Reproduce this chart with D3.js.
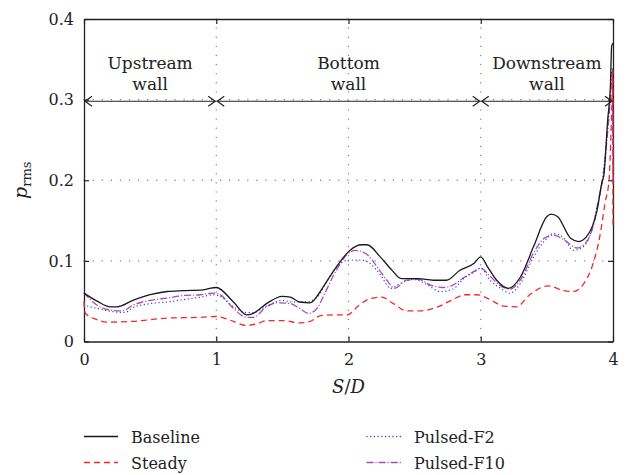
<!DOCTYPE html>
<html>
<head>
<meta charset="utf-8">
<script src="https://d3js.org/d3.v7.min.js"></script>
<style>
  body { margin: 0; background: #fff; }
  svg { display: block; font-family: "DejaVu Serif", "Liberation Serif", serif; }
</style>
</head>
<body>
<svg id="drawing_region"></svg>
<script>
// S/D positions and p_rms values
const baseline = [[0,0.060],[0.1,0.050],[0.2,0.043],[0.25,0.043],[0.37,0.051],[0.5,0.058],[0.63,0.062],[0.75,0.063],[0.9,0.064],[0.95,0.066],[1.0,0.067],[1.13,0.049],[1.23,0.033],[1.28,0.035],[1.38,0.047],[1.5,0.056],[1.56,0.055],[1.63,0.049],[1.71,0.048],[1.77,0.058],[1.81,0.068],[1.91,0.093],[2.01,0.113],[2.1,0.120],[2.14,0.120],[2.24,0.105],[2.32,0.090],[2.4,0.078],[2.53,0.078],[2.64,0.076],[2.74,0.076],[2.84,0.088],[2.95,0.097],[3.0,0.105],[3.05,0.093],[3.12,0.076],[3.21,0.066],[3.3,0.080],[3.4,0.118],[3.5,0.155],[3.53,0.158],[3.58,0.155],[3.68,0.128],[3.74,0.124],[3.8,0.130],[3.88,0.163],[3.92,0.200],[3.93,0.205],[3.96,0.275],[3.98,0.316],[3.99,0.366],[4.0,0.370]];
const steady = [[0,0.050],[0.01,0.035],[0.1,0.027],[0.17,0.024],[0.37,0.025],[0.63,0.029],[0.88,0.030],[1.0,0.031],[1.13,0.025],[1.22,0.020],[1.31,0.022],[1.38,0.026],[1.51,0.026],[1.63,0.023],[1.71,0.025],[1.79,0.032],[1.89,0.033],[1.99,0.033],[2.08,0.045],[2.16,0.053],[2.25,0.055],[2.34,0.047],[2.44,0.038],[2.54,0.038],[2.69,0.044],[2.79,0.052],[2.88,0.058],[2.97,0.058],[3.07,0.052],[3.17,0.044],[3.27,0.043],[3.37,0.058],[3.51,0.069],[3.63,0.063],[3.7,0.062],[3.78,0.072],[3.85,0.097],[3.9,0.130],[3.94,0.172],[3.97,0.200],[3.984,0.254],[3.992,0.296],[3.998,0.337],[4.0,0.140]];
const pulsedF2 = [[0,0.045],[0.1,0.041],[0.22,0.037],[0.31,0.036],[0.37,0.042],[0.5,0.047],[0.63,0.049],[0.75,0.052],[0.88,0.055],[0.98,0.058],[1.03,0.056],[1.13,0.043],[1.22,0.036],[1.28,0.036],[1.38,0.044],[1.5,0.051],[1.58,0.049],[1.68,0.049],[1.77,0.056],[1.84,0.076],[1.91,0.092],[2.0,0.101],[2.09,0.101],[2.16,0.097],[2.24,0.083],[2.32,0.066],[2.39,0.072],[2.49,0.077],[2.59,0.071],[2.69,0.062],[2.79,0.065],[2.87,0.078],[2.95,0.086],[3.0,0.091],[3.07,0.076],[3.15,0.066],[3.22,0.060],[3.3,0.072],[3.4,0.105],[3.5,0.128],[3.55,0.134],[3.63,0.128],[3.7,0.113],[3.78,0.118],[3.83,0.134],[3.88,0.167],[3.92,0.200],[3.96,0.270],[3.98,0.310],[3.995,0.340],[4.0,0.250]];
const pulsedF10 = [[0,0.060],[0.1,0.045],[0.2,0.039],[0.29,0.038],[0.37,0.045],[0.5,0.051],[0.63,0.054],[0.75,0.057],[0.88,0.058],[0.98,0.060],[1.03,0.058],[1.13,0.041],[1.23,0.030],[1.28,0.030],[1.38,0.043],[1.46,0.048],[1.56,0.047],[1.63,0.041],[1.7,0.035],[1.77,0.043],[1.81,0.056],[1.91,0.089],[1.99,0.108],[2.05,0.113],[2.14,0.108],[2.21,0.094],[2.29,0.076],[2.35,0.066],[2.44,0.076],[2.53,0.077],[2.62,0.070],[2.71,0.067],[2.79,0.070],[2.87,0.079],[2.95,0.087],[3.0,0.091],[3.07,0.081],[3.15,0.069],[3.22,0.065],[3.31,0.079],[3.4,0.110],[3.48,0.128],[3.55,0.132],[3.63,0.126],[3.73,0.116],[3.8,0.124],[3.85,0.143],[3.89,0.176],[3.92,0.200],[3.96,0.260],[3.98,0.300],[3.995,0.335],[4.0,0.200]];

const seriesNames = ['Baseline', 'Steady', 'Pulsed-F2', 'Pulsed-F10'];
const xTicks = [0, 1, 2, 3, 4];
const yTicks = [0, 0.1, 0.2, 0.3, 0.4];
const xTickLabels = ['0', '1', '2', '3', '4'];
const yTickLabels = ['0', '0.1', '0.2', '0.3', '0.4'];

// wall regions marked by the arrows at p_rms = 0.3
const regionStart = [0, 1, 3];
const regionEnd = [1, 3, 4];
const regionLabels = [['Upstream', 'wall'], ['Bottom', 'wall'], ['Downstream', 'wall']];
const arrowLevel = 0.298;

const styles = [
    { color: '#1a1a1a', dash: null, cap: 'butt' },
    { color: '#f2282d', dash: '6,4', cap: 'butt' },
    { color: '#3048d8', dash: '0.1,3.6', cap: 'round' },
    { color: '#b048b8', dash: '6,3,0.1,3', cap: 'round' }
];

class LinePlot {
    constructor(config) {
        this.config = config;
        this.init();
    }

    init() {
        let self = this;
        const c = self.config;

        self.svg = d3.select(c.parent)
            .attr('width', c.width)
            .attr('height', c.height);

        self.inner_width = c.width - c.margin.left - c.margin.right;
        self.inner_height = c.height - c.margin.top - c.margin.bottom;

        self.chart = self.svg.append('g')
            .attr('transform', `translate(${c.margin.left}, ${c.margin.top})`);

        self.xscale = d3.scaleLinear().domain([0, 4]).range([0, self.inner_width]);
        self.yscale = d3.scaleLinear().domain([0, 0.4]).range([self.inner_height, 0]);
    }

    render() {
        let self = this;
        const w = self.inner_width, h = self.inner_height;

        // dotted grid
        const grid = self.chart.append('g')
            .attr('stroke', '#7a7a7a')
            .attr('stroke-width', 1.3)
            .attr('stroke-dasharray', '0.1,9')
            .attr('stroke-linecap', 'round');
        grid.selectAll('.gx')
            .data(xTicks.slice(1, -1))
            .join('line')
            .attr('x1', d => self.xscale(d)).attr('x2', d => self.xscale(d))
            .attr('y1', 0).attr('y2', h);
        grid.selectAll('.gy')
            .data(yTicks.slice(1, -1))
            .join('line')
            .attr('y1', d => self.yscale(d)).attr('y2', d => self.yscale(d))
            .attr('x1', 0).attr('x2', w);

        // axes with inward ticks on all sides
        const xaxis = d3.axisBottom(self.xscale).tickValues(xTicks)
            .tickFormat((d, i) => xTickLabels[i]).tickSizeInner(-5).tickSizeOuter(0).tickPadding(12);
        const yaxis = d3.axisLeft(self.yscale).tickValues(yTicks)
            .tickFormat((d, i) => yTickLabels[i]).tickSizeInner(-5).tickSizeOuter(0).tickPadding(10);
        const xaxis_top = d3.axisTop(self.xscale).tickValues(xTicks).tickFormat('').tickSizeInner(-5).tickSizeOuter(0);
        const yaxis_right = d3.axisRight(self.yscale).tickValues(yTicks).tickFormat('').tickSizeInner(-5).tickSizeOuter(0);

        const axes = [
            self.chart.append('g').attr('transform', `translate(0, ${h})`).call(xaxis),
            self.chart.append('g').call(yaxis),
            self.chart.append('g').call(xaxis_top),
            self.chart.append('g').attr('transform', `translate(${w}, 0)`).call(yaxis_right)
        ];
        axes.forEach(g => {
            g.select('.domain').attr('stroke', '#222').attr('stroke-width', 1.3);
            g.selectAll('.tick line').attr('stroke', '#222').attr('stroke-width', 1.2);
            g.selectAll('.tick text')
                .attr('font-family', '"DejaVu Serif", serif')
                .attr('font-size', '16px')
                .attr('fill', '#222');
        });

        // curves
        const line = d3.line()
            .curve(d3.curveMonotoneX)
            .x(d => self.xscale(d[0]))
            .y(d => self.yscale(d[1]));
        const allSeries = [baseline, steady, pulsedF2, pulsedF10];
        [3, 2, 1, 0].forEach(i => {
            self.chart.append('path')
                .datum(allSeries[i])
                .attr('d', line)
                .attr('fill', 'none')
                .attr('stroke', styles[i].color)
                .attr('stroke-width', 1.3)
                .attr('stroke-linecap', styles[i].cap)
                .attr('stroke-linejoin', 'round')
                .attr('stroke-dasharray', styles[i].dash);
        });

        // region arrows
        const ay = self.yscale(arrowLevel);
        const arrows = self.chart.append('g')
            .attr('stroke', '#222')
            .attr('stroke-width', 1.2)
            .attr('fill', 'none');
        regionStart.forEach((s, i) => {
            const x1 = self.xscale(s) + 1, x2 = self.xscale(regionEnd[i]) - 1;
            arrows.append('line').attr('x1', x1).attr('x2', x2).attr('y1', ay).attr('y2', ay);
            arrows.append('path').attr('d', `M${x1 + 7},${ay - 5}L${x1},${ay}L${x1 + 7},${ay + 5}`);
            arrows.append('path').attr('d', `M${x2 - 7},${ay - 5}L${x2},${ay}L${x2 - 7},${ay + 5}`);
            const cx = self.xscale((s + regionEnd[i]) / 2);
            self.chart.append('text')
                .attr('x', cx).attr('y', ay - 32)
                .attr('text-anchor', 'middle')
                .attr('font-size', '17px')
                .attr('fill', '#222')
                .text(regionLabels[i][0]);
            self.chart.append('text')
                .attr('x', cx).attr('y', ay - 11)
                .attr('text-anchor', 'middle')
                .attr('font-size', '17px')
                .attr('fill', '#222')
                .text(regionLabels[i][1]);
        });

        // axis titles
        const xt = self.chart.append('text')
            .attr('x', w / 2).attr('y', h + 51)
            .attr('text-anchor', 'middle')
            .attr('font-size', '18px')
            .attr('fill', '#222');
        xt.append('tspan').attr('font-style', 'italic').text('S');
        xt.append('tspan').text('/');
        xt.append('tspan').attr('font-style', 'italic').text('D');

        const yt = self.chart.append('text')
            .attr('transform', `translate(${-57}, ${self.yscale(0.2)}) rotate(-90)`)
            .attr('text-anchor', 'middle')
            .attr('fill', '#222');
        yt.append('tspan').attr('font-style', 'italic').attr('font-size', '19px').text('p');
        yt.append('tspan').attr('font-size', '13px').attr('dy', 4).text('rms');

        // legend
        const legendX = [0, 283];
        const legendY = [h + 95, h + 121];
        seriesNames.forEach((name, i) => {
            const col = Math.floor(i / 2), row = i % 2;
            const g = self.chart.append('g')
                .attr('transform', `translate(${legendX[col]}, ${legendY[row]})`);
            g.append('line')
                .attr('x1', 0).attr('x2', 34).attr('y1', 0).attr('y2', 0)
                .attr('stroke', styles[i].color)
                .attr('stroke-width', 1.4)
                .attr('stroke-linecap', styles[i].cap)
                .attr('stroke-dasharray', styles[i].dash);
            g.append('text')
                .attr('x', 47).attr('y', 6)
                .attr('font-size', '16px')
                .attr('fill', '#222')
                .text(name);
        });
    }
}

const config = {
    parent: '#drawing_region',
    width: 627,
    height: 475,
    margin: { top: 19, right: 14, bottom: 133.5, left: 84 }
};

const plot = new LinePlot(config);
plot.render();
</script>
</body>
</html>
